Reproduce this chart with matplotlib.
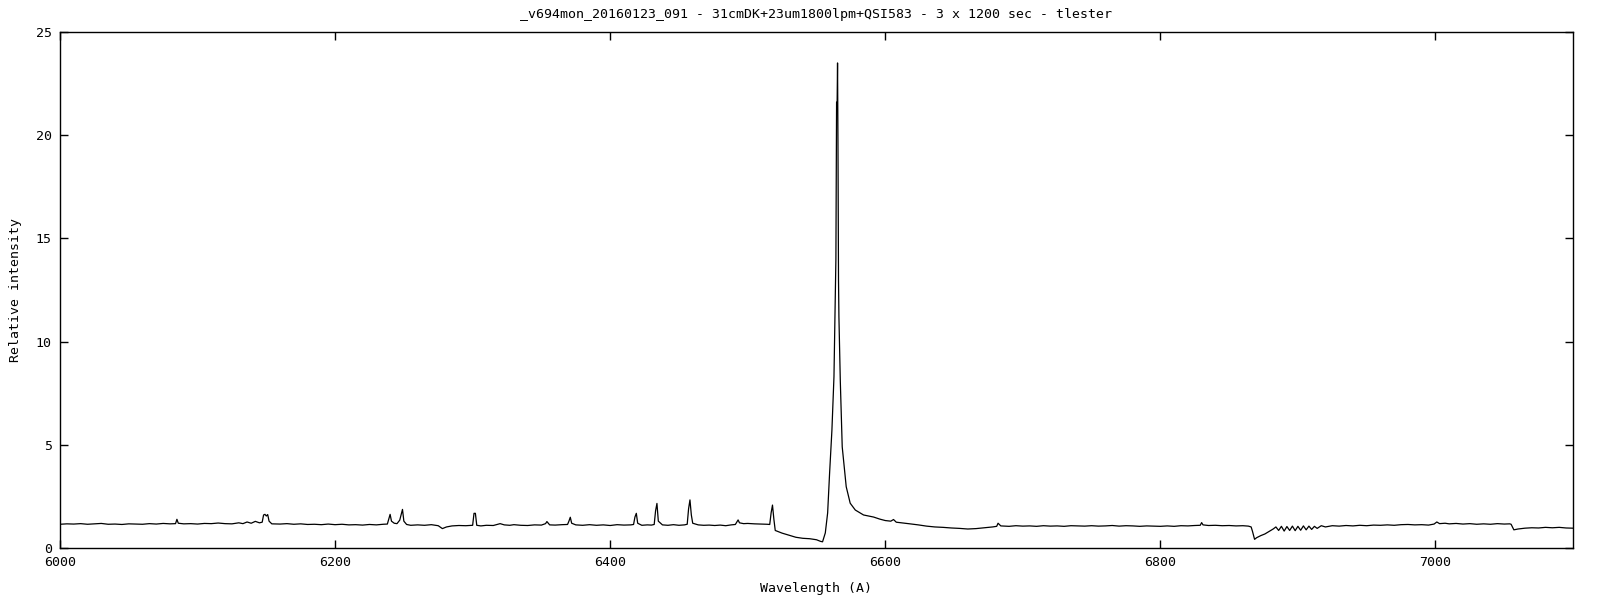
import numpy as np
import matplotlib
matplotlib.use('Agg')
from matplotlib import pyplot as plt

# spectrum (wavelength in A, relative intensity)
wave = [6000, 6005, 6010, 6015, 6020, 6025, 6030, 6035, 6040, 6045, 6050, 6055, 6060, 6065, 6070, 6075, 6080,
        6084, 6085, 6086, 6090, 6095, 6100, 6105, 6110, 6115, 6120, 6125, 6130, 6133, 6136, 6139, 6142, 6145,
        6147, 6148, 6149, 6150, 6151, 6152, 6154, 6160, 6165, 6170, 6175, 6180, 6185, 6190, 6195, 6200, 6205,
        6210, 6215, 6220, 6225, 6230, 6235, 6238, 6239, 6240, 6241, 6243, 6245, 6247, 6248, 6249, 6250, 6252,
        6255, 6260, 6265, 6270, 6275, 6278, 6281, 6285, 6290, 6295, 6299, 6300, 6301, 6302, 6303, 6306, 6310,
        6315, 6320, 6323, 6327, 6330, 6335, 6340, 6345, 6350, 6353, 6354, 6356, 6360, 6365, 6369, 6370, 6371,
        6372, 6375, 6380, 6385, 6390, 6395, 6400, 6405, 6410, 6415, 6417, 6418, 6419, 6420, 6423, 6427, 6430,
        6432, 6433, 6434, 6435, 6438, 6442, 6446, 6450, 6454, 6456, 6457, 6458, 6459, 6460, 6464, 6468, 6472,
        6476, 6480, 6484, 6488, 6491, 6493, 6494, 6497, 6500, 6505, 6510, 6514, 6516, 6517, 6518, 6519, 6520,
        6525, 6530, 6535, 6540, 6545, 6550, 6553, 6554.4, 6556.4, 6558.1, 6559.5, 6561.2, 6562.7, 6564.1,
        6564.6, 6565.0, 6565.3, 6565.6, 6566.0, 6566.3, 6567.3, 6568.7, 6571.6, 6574.5, 6578.2, 6584.2, 6591.5,
        6596, 6600, 6604, 6606, 6608, 6612, 6618, 6624, 6630, 6636, 6642, 6648, 6654, 6660, 6666, 6672, 6678,
        6681, 6682, 6684, 6690, 6695, 6700, 6705, 6710, 6715, 6720, 6725, 6730, 6735, 6740, 6745, 6750, 6755,
        6760, 6765, 6770, 6775, 6780, 6785, 6790, 6795, 6800, 6805, 6810, 6815, 6820, 6825, 6829, 6830, 6831,
        6835, 6840, 6845, 6850, 6855, 6860, 6864, 6866, 6867, 6868.5, 6870, 6873, 6876, 6879, 6882, 6884, 6886,
        6888, 6890, 6892, 6894, 6896, 6898, 6900, 6902, 6904, 6906, 6908, 6910, 6912, 6914, 6917, 6920, 6925,
        6930, 6935, 6940, 6945, 6950, 6955, 6960, 6965, 6970, 6975, 6980, 6985, 6990, 6995, 6999, 7001, 7003,
        7007, 7010, 7015, 7020, 7025, 7030, 7035, 7040, 7045, 7050, 7054, 7055, 7057, 7060, 7065, 7070, 7075,
        7080, 7085, 7090, 7095, 7100]
flux = [1.15, 1.17, 1.16, 1.18, 1.15, 1.17, 1.19, 1.15, 1.16, 1.14, 1.17, 1.16, 1.15, 1.18, 1.16, 1.19, 1.17,
        1.18, 1.39, 1.20, 1.17, 1.18, 1.16, 1.19, 1.18, 1.21, 1.18, 1.17, 1.22, 1.18, 1.26, 1.20, 1.29, 1.22,
        1.25, 1.60, 1.63, 1.55, 1.62, 1.30, 1.17, 1.16, 1.18, 1.15, 1.17, 1.14, 1.15, 1.13, 1.16, 1.13, 1.15,
        1.12, 1.13, 1.11, 1.14, 1.12, 1.15, 1.16, 1.40, 1.63, 1.30, 1.20, 1.18, 1.35, 1.60, 1.87, 1.30, 1.14,
        1.10, 1.12, 1.10, 1.13, 1.08, 0.94, 1.02, 1.07, 1.09, 1.08, 1.10, 1.10, 1.68, 1.68, 1.10, 1.07, 1.10,
        1.09, 1.18, 1.12, 1.10, 1.13, 1.10, 1.09, 1.12, 1.11, 1.18, 1.28, 1.12, 1.11, 1.13, 1.14, 1.30, 1.49,
        1.20, 1.12, 1.10, 1.13, 1.10, 1.12, 1.09, 1.13, 1.11, 1.12, 1.14, 1.50, 1.68, 1.20, 1.10, 1.12, 1.11,
        1.14, 1.80, 2.16, 1.30, 1.12, 1.10, 1.13, 1.10, 1.12, 1.15, 1.90, 2.33, 1.60, 1.20, 1.12, 1.10, 1.11,
        1.09, 1.11, 1.08, 1.12, 1.14, 1.36, 1.22, 1.18, 1.19, 1.17, 1.16, 1.15, 1.14, 1.70, 2.08, 1.40, 0.85,
        0.72, 0.62, 0.52, 0.47, 0.45, 0.40, 0.32, 0.30, 0.73, 1.70, 3.60, 5.70, 8.30, 14.0,
        21.6, 21.6, 23.5, 19.7, 13.0, 11.2, 8.10, 4.90, 2.97, 2.17, 1.84, 1.60, 1.50,
        1.40, 1.33, 1.30, 1.38, 1.25, 1.22, 1.17, 1.12, 1.06, 1.02, 1.00, 0.97, 0.95, 0.92, 0.94, 0.98, 1.02,
        1.05, 1.20, 1.07, 1.05, 1.08, 1.06, 1.07, 1.05, 1.08, 1.06, 1.07, 1.05, 1.08, 1.07, 1.06, 1.08, 1.06,
        1.07, 1.09, 1.06, 1.08, 1.07, 1.05, 1.07, 1.06, 1.05, 1.07, 1.05, 1.08, 1.07, 1.09, 1.10, 1.23, 1.12,
        1.09, 1.10, 1.08, 1.09, 1.07, 1.08, 1.06, 1.02, 0.80, 0.42, 0.50, 0.60, 0.68, 0.80, 0.92, 1.02, 0.85,
        1.05, 0.82, 1.04, 0.85, 1.06, 0.84, 1.05, 0.86, 1.07, 0.88, 1.06, 0.90, 1.05, 0.95, 1.08, 1.02, 1.08,
        1.06, 1.09, 1.07, 1.10, 1.08, 1.11, 1.10, 1.12, 1.10, 1.13, 1.14, 1.12, 1.13, 1.11, 1.16, 1.26, 1.18,
        1.20, 1.17, 1.19, 1.16, 1.18, 1.15, 1.17, 1.15, 1.18, 1.16, 1.17, 1.15, 0.88, 0.92, 0.96, 0.98, 0.97,
        1.00, 0.98, 1.00, 0.97, 0.96]

title = '_v694mon_20160123_091 - 31cmDK+23um1800lpm+QSI583 - 3 x 1200 sec - tlester'
xticks = [6000, 6200, 6400, 6600, 6800, 7000]
yticks = [0, 5, 10, 15, 20, 25]

plt.rcParams['font.family'] = ['DejaVu Sans Mono']
plt.rcParams['font.size'] = 9.5

fig = plt.figure(figsize=(16, 6), dpi=100)
ax = fig.add_axes([60 / 1600, 1 - 548 / 600, 1513 / 1600, 516 / 600])
ax.plot(wave, flux, color='black', lw=0.9)

ax.set_xlim(6000, 7100)
ax.set_ylim(0, 25)
ax.set_xticks(xticks)
ax.set_yticks(yticks)
ax.tick_params(direction='in', length=6, width=1, top=True, right=True, pad=6)
for s in ax.spines.values():
    s.set_linewidth(1)

ax.set_title(title, fontsize=9.5, pad=10)
ax.set_xlabel('Wavelength (A)', labelpad=9)
ax.set_ylabel('Relative intensity', labelpad=10)

fig.savefig('out.png', dpi=100)
